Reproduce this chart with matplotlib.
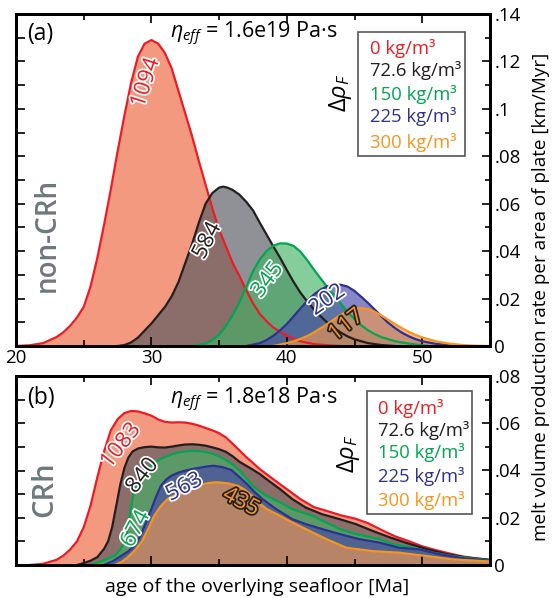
import matplotlib.pyplot as plt
import matplotlib.patheffects as pe
from matplotlib.patches import Rectangle
from matplotlib.ticker import MultipleLocator, FixedLocator, FixedFormatter

plt.rcParams['font.family'] = ['Open Sans', 'DejaVu Sans']
plt.rcParams['mathtext.fontset'] = 'custom'
plt.rcParams['mathtext.rm'] = 'Open Sans'
plt.rcParams['mathtext.it'] = 'Open Sans:italic'

W, H = 553, 598

# density contrasts (legend) and series colours
rho_labels = ['0 kg/m³', '72.6 kg/m³', '150 kg/m³', '225 kg/m³', '300 kg/m³']
line_colors = ['#ED1C24', '#231F20', '#00A651', '#2E3192', '#F7941D']
fill_colors = ['#EE623A', '#53565E', '#44B265', '#4747AB', '#F09650']

# (a) non-CRh, eta = 1.6e19
a_red_age = [20, 21, 22, 23, 23.5, 24, 24.5, 25, 25.5, 26, 26.5, 27, 27.5, 28, 28.5, 29, 29.5, 30,
             30.5, 31, 31.5, 32, 32.5, 33, 33.5, 34, 34.5, 35, 35.5, 36, 36.5, 37, 37.5, 38, 38.5,
             39, 40, 41, 42, 43, 44]
a_red = [0, 0.0003, 0.0012, 0.0038, 0.0058, 0.0085, 0.012, 0.0165, 0.025, 0.037, 0.051, 0.066,
         0.082, 0.097, 0.111, 0.122, 0.1275, 0.129, 0.1275, 0.1235, 0.117, 0.1075, 0.098, 0.0885,
         0.078, 0.068, 0.058, 0.049, 0.042, 0.035, 0.0295, 0.0235, 0.018, 0.0135, 0.0105, 0.0078,
         0.0043, 0.002, 0.0008, 0.0003, 0]
a_black_age = [27.5, 28, 28.5, 29, 29.5, 30, 30.5, 31, 31.5, 32, 32.5, 33, 33.5, 34, 34.5, 35, 35.3,
               35.6, 36, 36.5, 37, 37.5, 38, 38.5, 39, 39.5, 40, 40.5, 41, 41.5, 42, 42.5, 43,
               43.5, 44, 44.5, 45, 46, 47, 48]
a_black = [0, 0.0004, 0.0015, 0.0035, 0.0065, 0.0095, 0.013, 0.0165, 0.021, 0.027, 0.035, 0.043,
           0.052, 0.060, 0.0645, 0.0668, 0.0672, 0.0668, 0.0658, 0.0638, 0.0608, 0.0572, 0.052,
           0.047, 0.042, 0.0372, 0.032, 0.027, 0.0225, 0.0188, 0.0155, 0.0125, 0.0098, 0.0076,
           0.0056, 0.004, 0.0028, 0.0012, 0.0004, 0]
a_green_age = [33, 34, 34.5, 35, 35.5, 36, 36.5, 37, 37.5, 38, 38.5, 39, 39.5, 40, 40.5, 41, 41.5,
               42, 42.5, 43, 43.5, 44, 44.5, 45, 45.5, 46, 46.5, 47, 48, 49, 50.5]
a_green = [0, 0.001, 0.0025, 0.0048, 0.0085, 0.013, 0.0185, 0.025, 0.0315, 0.0365, 0.040, 0.0423,
           0.0433, 0.0432, 0.0422, 0.0398, 0.0362, 0.0322, 0.0284, 0.0248, 0.0213, 0.0178, 0.0143,
           0.0113, 0.0087, 0.0066, 0.005, 0.0037, 0.002, 0.001, 0]
a_blue_age = [37, 38, 38.5, 39, 39.5, 40, 40.5, 41, 41.5, 42, 42.5, 43, 43.5, 44, 44.5, 45, 45.5, 46,
              46.5, 47, 47.5, 48, 48.5, 49, 49.5, 50, 51, 52, 53]
a_blue = [0, 0.0012, 0.0025, 0.0043, 0.0066, 0.0093, 0.0125, 0.0158, 0.019, 0.0217, 0.0238, 0.0252,
          0.0259, 0.0258, 0.025, 0.0232, 0.0207, 0.0181, 0.0153, 0.0124, 0.0097, 0.0075, 0.0056,
          0.0041, 0.0029, 0.002, 0.0009, 0.0003, 0]
a_orange_age = [39, 40, 40.5, 41, 41.5, 42, 42.5, 43, 43.5, 44, 44.5, 45, 45.5, 46, 46.5, 47, 47.5,
                48, 48.5, 49, 49.5, 50, 51, 52, 53, 54, 55]
a_orange = [0, 0.0012, 0.002, 0.003, 0.0042, 0.0057, 0.0075, 0.0093, 0.0113, 0.0132, 0.0148,
            0.0158, 0.016, 0.0155, 0.0144, 0.0128, 0.011, 0.0092, 0.0075, 0.006, 0.0047, 0.0036,
            0.002, 0.001, 0.0004, 0.0001, 0]

# (b) CRh, eta = 1.8e18
b_red_age = [21, 22, 23, 23.5, 24, 24.5, 25, 25.5, 26, 26.5, 27, 27.5, 28, 28.5, 29, 29.5, 30, 30.5,
             31, 31.5, 32, 32.5, 33, 33.5, 34, 34.5, 35, 35.5, 36, 36.5, 37, 37.5, 38, 39, 40, 41,
             42, 43, 44, 45, 46, 47, 48, 49, 50, 51, 52, 53, 54, 55]
b_red = [0, 0.0005, 0.0022, 0.004, 0.0065, 0.010, 0.016, 0.025, 0.037, 0.048, 0.057, 0.0617, 0.0643,
         0.0652, 0.065, 0.0642, 0.0632, 0.0616, 0.0606, 0.0603, 0.0604, 0.0603, 0.0598, 0.059, 0.058,
         0.057, 0.0558, 0.054, 0.0513, 0.0485, 0.0457, 0.0432, 0.0406, 0.0363, 0.0321, 0.0279,
         0.0245, 0.0228, 0.021, 0.0197, 0.0177, 0.0148, 0.0121, 0.0101, 0.0079, 0.0063, 0.0049,
         0.0036, 0.0028, 0.0021]
b_black_age = [24.5, 25, 25.5, 26, 26.5, 26.8, 27.1, 27.4, 27.7, 28, 28.3, 28.6, 29, 29.5, 30, 30.5,
               31, 31.5, 32, 32.5, 33, 33.5, 34, 34.5, 35, 35.5, 36, 36.5, 37, 37.5, 38, 38.5, 39.5,
               40.4, 41.4, 42.6, 43.9, 45.1, 46.3, 47.6, 48.8, 50.3, 51.8, 53.2, 55]
b_black = [0, 0.0008, 0.0018, 0.0033, 0.0068, 0.010, 0.016, 0.025, 0.034, 0.041, 0.0455, 0.048,
           0.0493, 0.0499, 0.0501, 0.0498, 0.0497, 0.0501, 0.0506, 0.051, 0.0511, 0.0509, 0.0505,
           0.0498, 0.049, 0.0479, 0.046, 0.0437, 0.042, 0.0403, 0.0385, 0.0363, 0.0321, 0.0279,
           0.0243, 0.0215, 0.0194, 0.0173, 0.0145, 0.0117, 0.0094, 0.0068, 0.0046, 0.0032, 0.0022]
b_green_age = [25.5, 26.5, 27.3, 27.7, 28, 28.2, 28.4, 28.6, 28.8, 29.1, 29.4, 29.8, 30.2, 30.7,
               31.2, 31.7, 32.2, 32.7, 33.2, 33.7, 34.2, 34.8, 35.4, 36, 36.5, 37, 37.5, 38, 38.5,
               39.5, 40.4, 41.9, 42.9, 43.9, 45.1, 46.8, 47.8, 49.3, 50.8, 52.2, 53.7, 55]
b_green = [0, 0.002, 0.004, 0.0065, 0.0096, 0.014, 0.0208, 0.028, 0.0325, 0.0365, 0.0391, 0.0415,
           0.0434, 0.0449, 0.0462, 0.0472, 0.0479, 0.0482, 0.0483, 0.0481, 0.0476, 0.0465, 0.0448,
           0.0425, 0.040, 0.0368, 0.0335, 0.0312, 0.0293, 0.0265, 0.0237, 0.0208, 0.018, 0.0152,
           0.0131, 0.011, 0.0089, 0.0073, 0.0052, 0.0038, 0.0027, 0.002]
b_blue_age = [26.5, 27.2, 27.8, 28.3, 28.75, 29.1, 29.4, 29.7, 30, 30.35, 30.7, 31.1, 31.45, 31.9,
              32.4, 33, 33.7, 34.2, 34.6, 35.2, 35.9, 36.5, 37.1, 37.6, 38.2, 39.2, 40.4, 41.4,
              42.6, 43.9, 45.3, 46.8, 48.3, 49.8, 51.2, 53.2, 55]
b_blue = [0, 0.0018, 0.004, 0.0058, 0.0082, 0.0115, 0.0152, 0.0195, 0.0237, 0.029, 0.0335, 0.0362,
          0.0377, 0.0389, 0.0398, 0.0406, 0.0413, 0.0418, 0.042, 0.0415, 0.0402, 0.0372, 0.034,
          0.031, 0.0279, 0.0237, 0.0194, 0.0173, 0.0152, 0.0131, 0.011, 0.0095, 0.0073, 0.0066,
          0.0046, 0.0027, 0.0018]
b_orange_age = [27.3, 27.8, 28.25, 28.75, 29.25, 29.7, 30.2, 30.7, 31.2, 31.7, 32.2, 32.7, 33.2,
                33.7, 34.2, 34.7, 35.1, 35.7, 36.4, 36.9, 37.4, 37.9, 38.5, 39.5, 40.4, 41.4, 42.9,
                44.4, 46.3, 48.3, 50.3, 52.2, 55]
b_orange = [0, 0.0013, 0.0032, 0.006, 0.0096, 0.0145, 0.0208, 0.025, 0.0279, 0.0295, 0.0307,
            0.0318, 0.0328, 0.034, 0.0347, 0.035, 0.0349, 0.0345, 0.0335, 0.0318, 0.0295, 0.0265,
            0.0237, 0.0208, 0.018, 0.0152, 0.011, 0.0073, 0.0059, 0.0052, 0.0038, 0.0024, 0.0015]

a_series = [(a_red_age, a_red), (a_black_age, a_black), (a_green_age, a_green),
            (a_blue_age, a_blue), (a_orange_age, a_orange)]
b_series = [(b_red_age, b_red), (b_black_age, b_black), (b_green_age, b_green),
            (b_blue_age, b_blue), (b_orange_age, b_orange)]

# total melt labels along the curves: (text, age, value, angle)
a_totals = [('1094', 29.6, 0.111, 72), ('584', 34.15, 0.0443, 63), ('345', 38.6, 0.0277, 53),
            ('202', 43.0, 0.0193, 35), ('117', 44.4, 0.0087, 38)]
b_totals = [('1083', 27.76, 0.0504, 52), ('840', 29.36, 0.0377, 52), ('674', 28.87, 0.0152, 62),
            ('563', 32.44, 0.0328, 28), ('435', 36.6, 0.0265, -28)]

a_yticks = [0, 0.02, 0.04, 0.06, 0.08, 0.10, 0.12, 0.14]
a_yticklabels = ['0', '.02', '.04', '.06', '.08', '.1', '.12', '.14']
b_yticks = [0, 0.02, 0.04, 0.06, 0.08]
b_yticklabels = ['0', '.02', '.04', '.06', '.08']
xticks = [20, 30, 40, 50]

fig = plt.figure(figsize=(W / 100, H / 100), dpi=100)


def fpos(x, y):
    return x / W, 1 - y / H


def setup(ax, ymax, yticks, yticklabels, xlabels):
    ax.set_xlim(20, 55)
    ax.set_ylim(0, ymax)
    for s in ax.spines.values():
        s.set_linewidth(2)
    ax.xaxis.set_major_locator(FixedLocator(xticks))
    ax.xaxis.set_minor_locator(MultipleLocator(5))
    ax.yaxis.set_major_locator(MultipleLocator(0.01))
    ax.tick_params(axis='x', which='major', direction='in', top=True, bottom=True,
                   length=6.5, width=1.2, labelsize=13.5, pad=2, labelbottom=xlabels)
    ax.tick_params(axis='x', which='minor', direction='in', top=True, bottom=True,
                   length=4, width=1.2)
    ax.tick_params(axis='y', which='major', direction='in', left=True, right=False,
                   labelleft=False, length=6.5, width=1.2)
    ax2 = ax.twinx()
    ax2.set_ylim(0, ymax)
    ax2.yaxis.set_major_locator(FixedLocator(yticks))
    ax2.yaxis.set_major_formatter(FixedFormatter(yticklabels))
    ax2.yaxis.set_minor_locator(MultipleLocator(0.01))
    ax2.tick_params(axis='y', which='major', direction='in', length=6, width=1.2,
                    labelsize=13.5, pad=3)
    ax2.tick_params(axis='y', which='minor', direction='in', length=3.5, width=1.2)
    for s in ax2.spines.values():
        s.set_linewidth(2)


def draw(ax, series, totals):
    for (age, val), fc in zip(series, fill_colors):
        ax.fill_between(age, 0, val, color=fc, alpha=0.65, lw=0)
    for (age, val), lc in zip(series, line_colors):
        ax.plot(age, val, color=lc, lw=1.6)
    for (txt, x, y, ang), lc in zip(totals, line_colors):
        edge = '#231F20' if lc == '#F7941D' else 'white'
        ax.text(x, y, txt, color=lc, fontsize=16, rotation=ang, ha='center', va='center',
                rotation_mode='anchor',
                path_effects=[pe.withStroke(linewidth=2.5, foreground=edge)])


def legend_box(x0, y0, x1, y1, tx, ty):
    r = Rectangle(fpos(x0, y1), (x1 - x0) / W, (y1 - y0) / H, transform=fig.transFigure,
                  facecolor='white', edgecolor='#555555', lw=1.2)
    fig.patches.append(r)
    for lab, c, yy in zip(rho_labels, line_colors, ty):
        fig.text(*fpos(tx, yy), lab, color=c, fontsize=13.3, ha='left', va='center')


ax_a = fig.add_axes([16 / W, 252 / H, 474 / W, 332 / H])
setup(ax_a, 0.14, a_yticks, a_yticklabels, True)
draw(ax_a, a_series, a_totals)

ax_b = fig.add_axes([16 / W, 33 / H, 474 / W, 189 / H])
setup(ax_b, 0.08, b_yticks, b_yticklabels, False)
draw(ax_b, b_series, b_totals)

# panel annotations
fig.text(*fpos(27, 34), '(a)', fontsize=16.5, ha='left', va='center')
fig.text(*fpos(170, 34), r'$\eta_{eff}$ = 1.6e19 Pa·s', fontsize=15.5, ha='left', va='center')
fig.text(*fpos(27, 398), '(b)', fontsize=16.5, ha='left', va='center')
fig.text(*fpos(170, 400), r'$\eta_{eff}$ = 1.8e18 Pa·s', fontsize=15.5, ha='left', va='center')

fig.text(*fpos(340, 93), r'$\Delta\rho_F$', fontsize=17, rotation=90, ha='center', va='center')
fig.text(*fpos(348, 454), r'$\Delta\rho_F$', fontsize=17, rotation=90, ha='center', va='center')

legend_box(358, 32, 465, 156, 370, [48, 71, 95, 117, 142])
legend_box(367, 391, 472, 514, 378, [408, 430, 453, 477, 500])

fig.text(*fpos(47, 235), 'non-CRh', fontsize=20, fontweight='semibold', color='#6D787C',
         rotation=90, ha='center', va='center')
fig.text(*fpos(45, 489), 'CRh', fontsize=21, fontweight='semibold', color='#6D787C',
         rotation=90, ha='center', va='center')

fig.text(*fpos(257, 587), 'age of the overlying seafloor [Ma]', fontsize=14,
         ha='center', va='center')
fig.text(*fpos(541, 297), 'melt volume production rate per area of plate [km/Myr]',
         fontsize=13.6, rotation=90, ha='center', va='center')

fig.savefig('out.png', dpi=100)
